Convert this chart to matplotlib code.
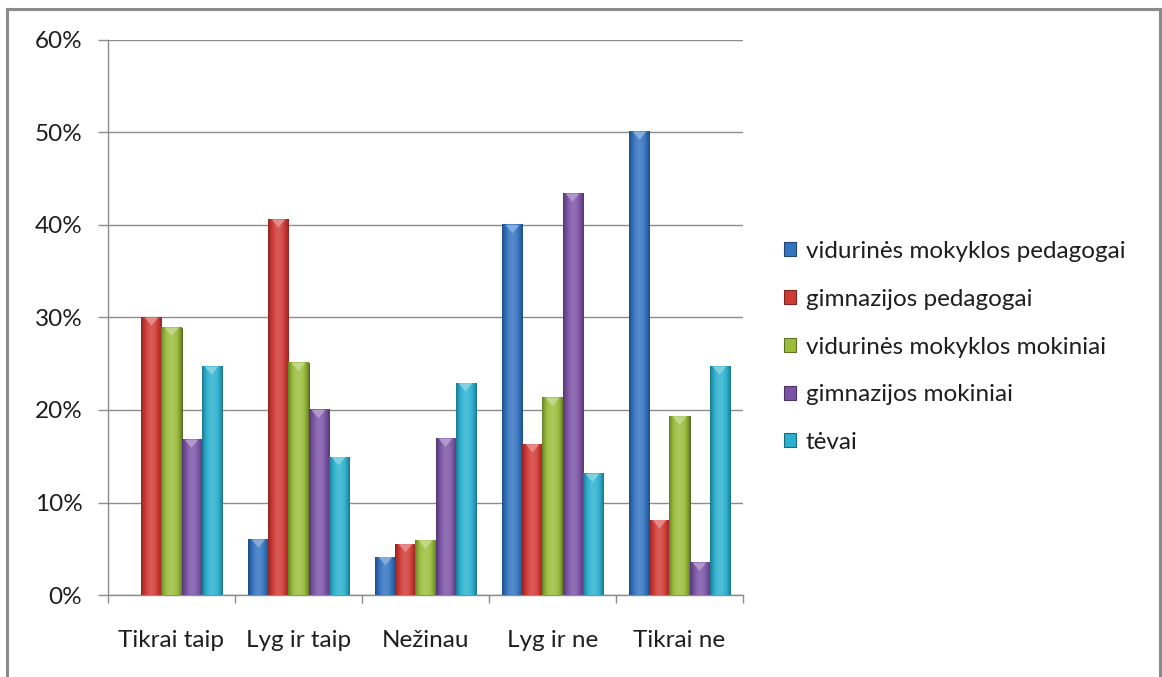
import numpy as np
import matplotlib
matplotlib.use("Agg")
import matplotlib.pyplot as plt
from matplotlib.lines import Line2D
from matplotlib.patches import Polygon
from matplotlib.colors import to_rgb
from matplotlib.ticker import FuncFormatter, FixedLocator

plt.rcParams['font.family'] = ['Lato', 'DejaVu Sans']

categories = ["Tikrai taip", "Lyg ir taip", "Nežinau", "Lyg ir ne", "Tikrai ne"]
series_names = ["vidurinės mokyklos pedagogai", "gimnazijos pedagogai",
                "vidurinės mokyklos mokiniai", "gimnazijos mokiniai", "tėvai"]
vid_pedagogai = [0.0, 6.0, 4.1, 40.0, 50.1]
gimn_pedagogai = [30.0, 40.6, 5.5, 16.3, 8.1]
vid_mokiniai = [28.9, 25.1, 5.9, 21.3, 19.3]
gimn_mokiniai = [16.8, 20.0, 16.9, 43.4, 3.5]
tevai = [24.7, 14.9, 22.9, 13.1, 24.7]
series = [vid_pedagogai, gimn_pedagogai, vid_mokiniai, gimn_mokiniai, tevai]
colors = ["#3373bf", "#d03a35", "#9abd3c", "#7c54a6", "#2cb0cf"]
yticks = [0, 10, 20, 30, 40, 50, 60]

fig = plt.figure(figsize=(11.62, 6.77), dpi=100)
ax = fig.add_axes([108/1162, 1-595/677, (743-108)/1162, (595-40)/677])

x = np.arange(len(categories))
bw = 0.1575
offsets = (np.arange(5) - 2) * bw


def shade(c, f):
    r = np.array(to_rgb(c))
    if f >= 0:
        return tuple(r + (1 - r) * f)
    return tuple(r * (1 + f))


for i, (vals, col) in enumerate(zip(series, colors)):
    bars = ax.bar(x + offsets[i], vals, bw, color=col, zorder=3,
                  edgecolor=shade(col, -0.45), linewidth=0.7, label=series_names[i])
    for b in bars:
        h = b.get_height()
        if h <= 0:
            continue
        x0, w = b.get_x(), b.get_width()
        n = 32
        t = np.linspace(0, 1, n)
        prof = 0.2 - 0.6 * (2 * t - 1) ** 2
        prof = prof * 0.8
        img = np.array([[shade(col, p) for p in prof]])
        ax.imshow(img, extent=(x0, x0 + w, 0, h), aspect='auto', zorder=3.1,
                  interpolation='bilinear')
        capw = w * 0.34
        caph = 0.9
        cx = x0 + w / 2
        tri = Polygon([[cx - capw, h], [cx + capw, h], [cx, h - caph]],
                      closed=True, facecolor=shade(col, 0.4), edgecolor='none',
                      zorder=3.2)
        ax.add_patch(tri)

ax.set_xlim(-0.5, len(categories) - 0.5)
ax.set_ylim(0, 60)
ax.set_yticks(yticks)
ax.yaxis.set_major_formatter(FuncFormatter(lambda v, p: f"{int(v)}%"))
ax.set_xticks(x)
ax.set_xticklabels(categories)
ax.xaxis.set_minor_locator(FixedLocator(np.arange(-0.5, len(categories), 1.0)))
ax.tick_params(axis='x', which='major', length=0, pad=25, labelsize=17.5, labelcolor='#1e1e1e')
ax.tick_params(axis='x', which='minor', length=6, color='#8c8c8c', width=1)
ax.tick_params(axis='y', length=7, color='#8c8c8c', width=1, pad=11.5,
               labelsize=17.5, labelcolor='#1e1e1e')
ax.grid(axis='y', color='#8c8c8c', linewidth=1, zorder=0)
ax.set_axisbelow(True)
for s in ['top', 'right']:
    ax.spines[s].set_visible(False)
for s in ['left', 'bottom']:
    ax.spines[s].set_color('#8c8c8c')
    ax.spines[s].set_linewidth(1)

handles = [plt.Rectangle((0, 0), 1, 1, facecolor=c, edgecolor=shade(c, -0.4), linewidth=0.8)
           for c in colors]
leg = fig.legend(handles, series_names, loc='center left',
                 bbox_to_anchor=(784/1162, 1 - 347/677), frameon=False,
                 fontsize=17.5, handlelength=0.5, handleheight=0.5,
                 handletextpad=0.4, labelspacing=1.1, borderaxespad=0,
                 borderpad=0)
for t in leg.get_texts():
    t.set_color('#1e1e1e')

frame_c = '#8a8a8a'
fig.add_artist(Line2D([7/1162, 7/1162], [0, 1 - 9/677], color=frame_c, lw=2.2,
                      transform=fig.transFigure))
fig.add_artist(Line2D([7/1162, 1160/1162], [1 - 9/677, 1 - 9/677], color=frame_c, lw=2.2,
                      transform=fig.transFigure))
fig.add_artist(Line2D([1160/1162, 1160/1162], [0, 1 - 9/677], color=frame_c, lw=2.2,
                      transform=fig.transFigure))

fig.savefig("out.png", dpi=100, facecolor='white')
